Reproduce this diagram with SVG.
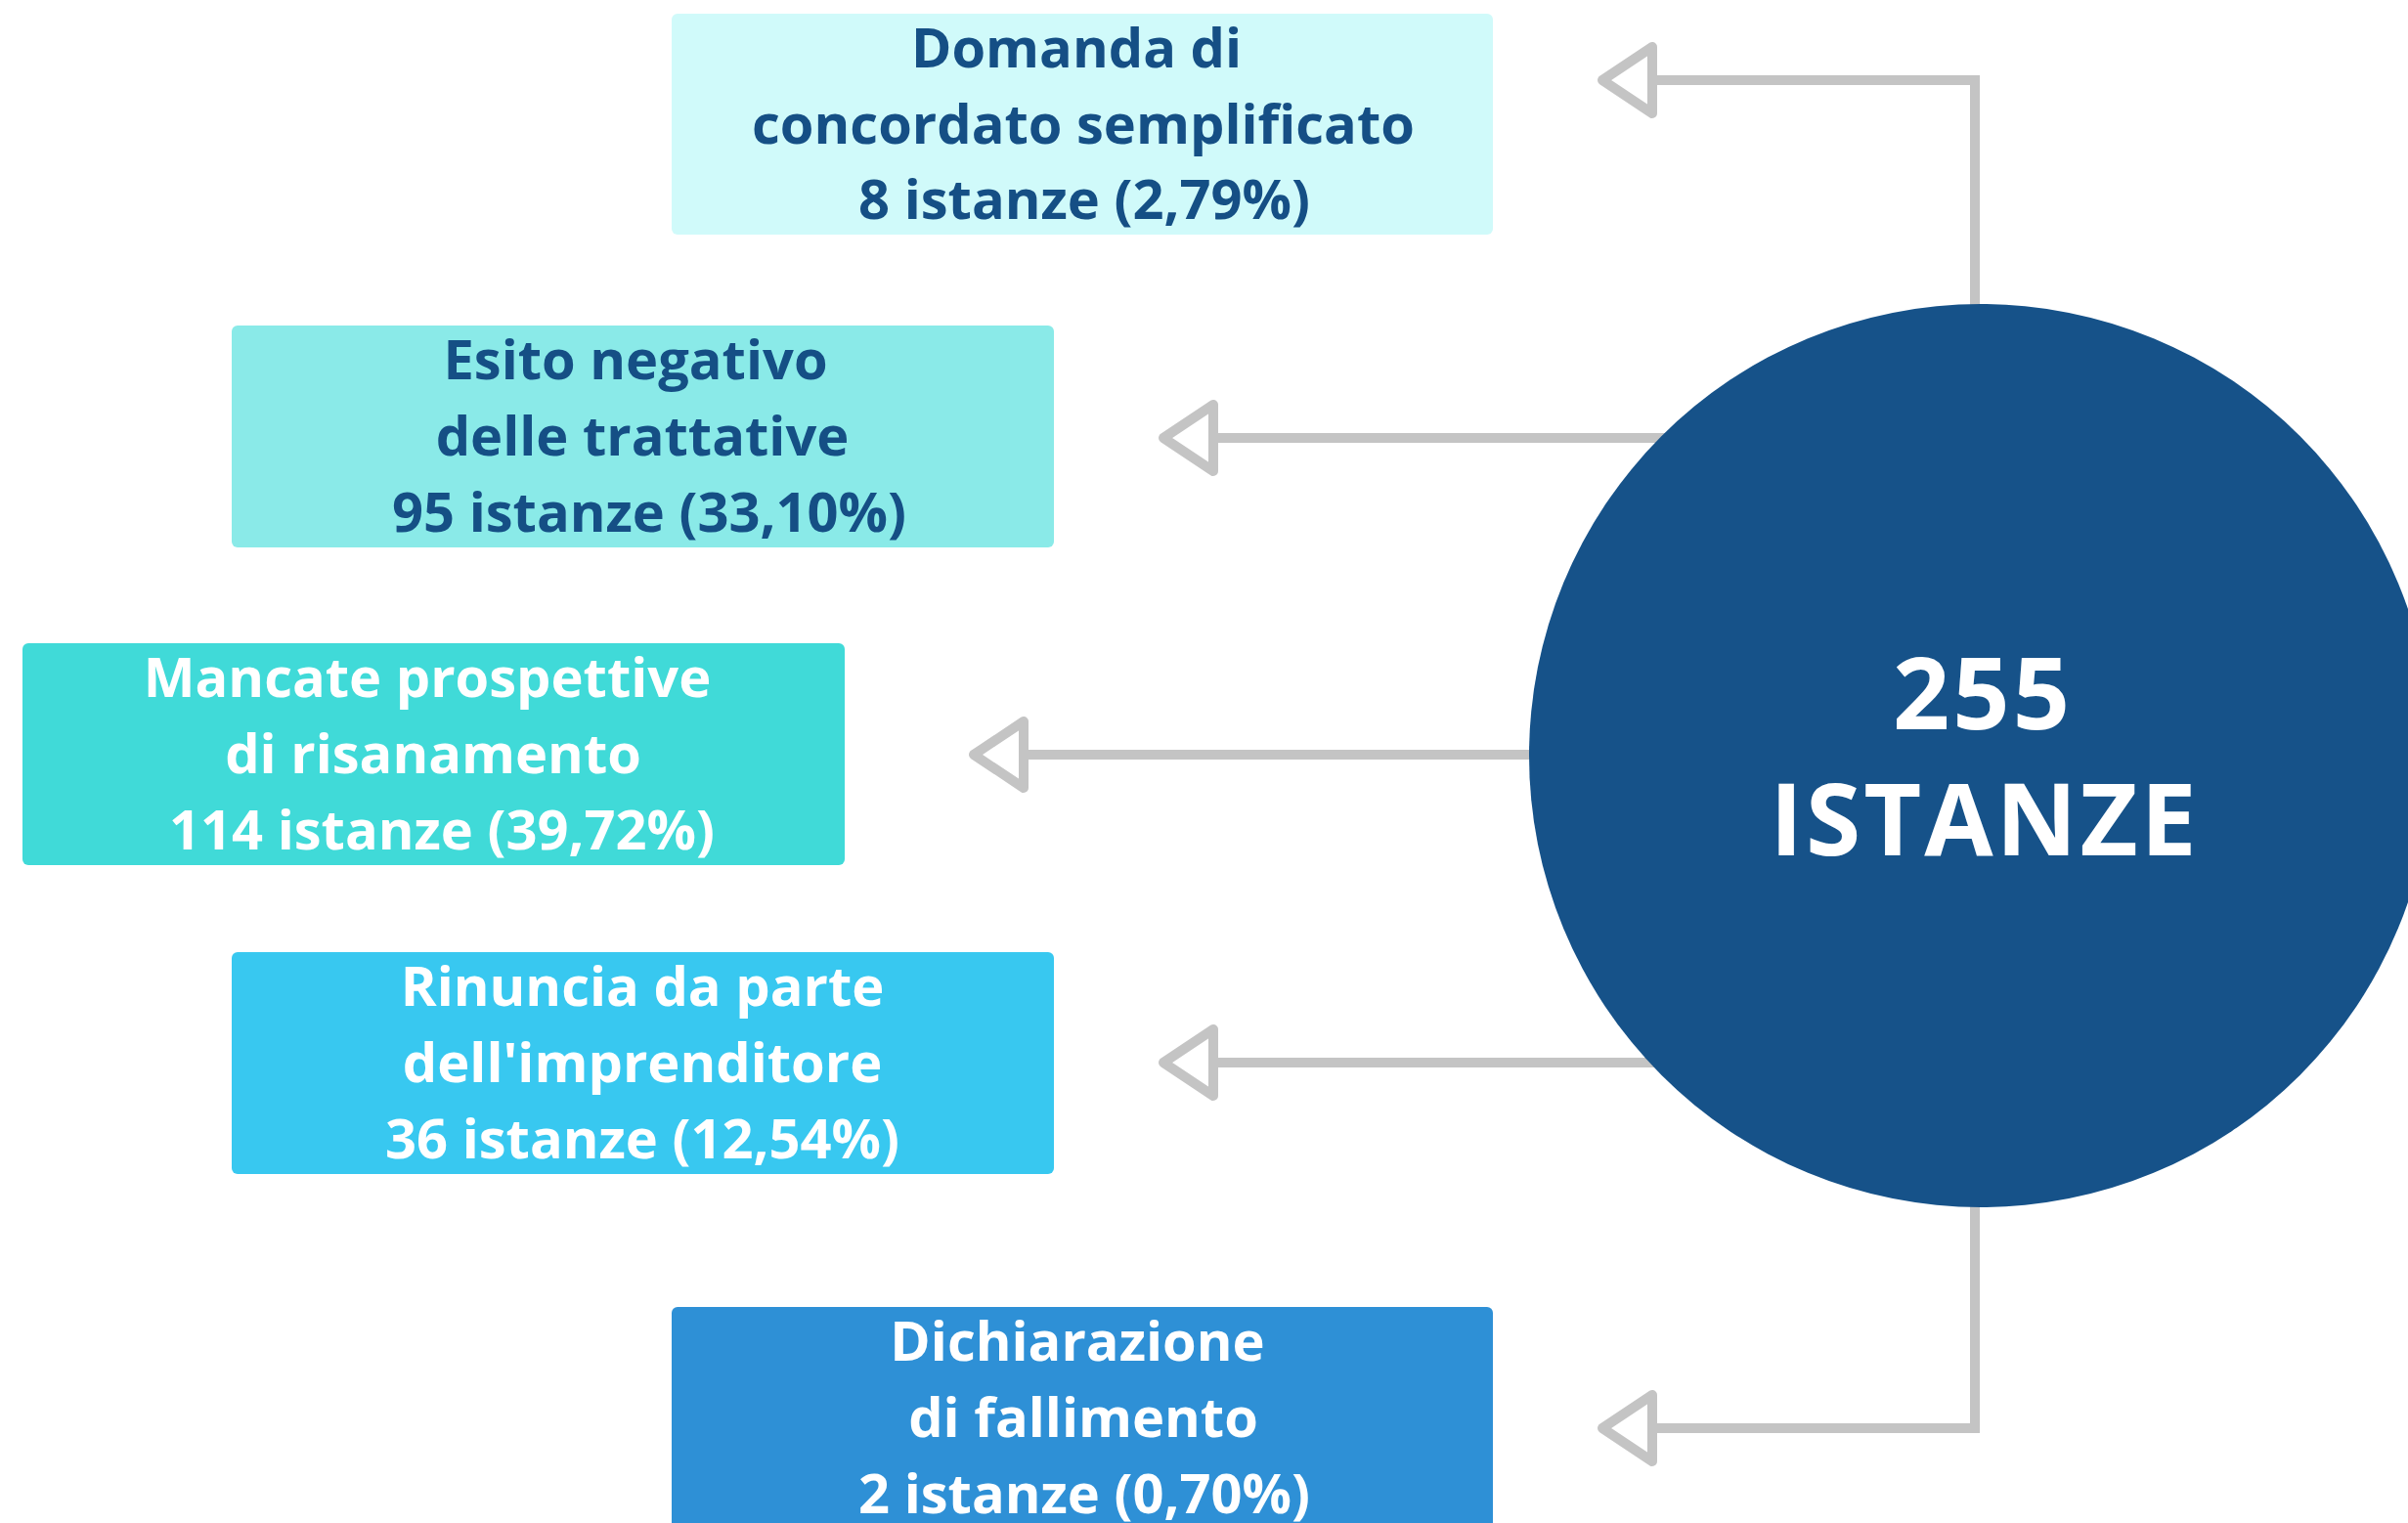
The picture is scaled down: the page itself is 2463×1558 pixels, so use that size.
<svg xmlns="http://www.w3.org/2000/svg" width="2463" height="1558" viewBox="0 0 2463 1558">
  <style>
    .lbl { font-family: "Open Sans", "Liberation Sans", sans-serif; font-weight: 700; font-size: 56px; text-anchor: middle; }
    .dark { fill: #154f85; }
    .light { fill: #ffffff; }
    .conn { fill: none; stroke: #c4c4c4; stroke-width: 10; stroke-linejoin: miter; marker-end: url(#arr); }
    .big { font-family: "Open Sans", "Liberation Sans", sans-serif; font-weight: 700; font-size: 102px; fill: #ffffff; text-anchor: middle; letter-spacing: 3px; }
  </style>
  <defs>
    <marker id="arr" markerUnits="userSpaceOnUse" markerWidth="80" markerHeight="100" viewBox="-15 -50 80 100" refX="0" refY="0" orient="auto" overflow="visible">
      <path d="M0,-34 L51,0 L0,34 Z" fill="#ffffff" stroke="#c4c4c4" stroke-width="10" stroke-linejoin="round"/>
    </marker>
  </defs>
  <rect width="2463" height="1558" fill="#ffffff"/>
  <g id="connectors">
    <path class="conn" d="M2020,330 V82 H1690"/>
    <path class="conn" d="M1720,448 H1241"/>
    <path class="conn" d="M1600,772 H1047"/>
    <path class="conn" d="M1720,1087 H1241"/>
    <path class="conn" d="M2020,1220 V1461 H1690"/>
  </g>
  <g id="node-center">
    <circle cx="2026" cy="773" r="462" fill="#165289"/>
    <text class="big" x="2028" y="746">255</text>
    <text class="big" x="2030" y="875">ISTANZE</text>
  </g>
  <g id="node-concordato">
    <rect x="687" y="14" width="840" height="226" rx="6" fill="#d0fafa"/>
    <text class="lbl dark" x="1101" y="69">Domanda di</text>
    <text class="lbl dark" x="1108" y="147">concordato semplificato</text>
    <text class="lbl dark" x="1109" y="224">8 istanze (2,79%)</text>
  </g>
  <g id="node-esito">
    <rect x="237" y="333" width="841" height="227" rx="6" fill="#8aeae8"/>
    <text class="lbl dark" x="650" y="388">Esito negativo</text>
    <text class="lbl dark" x="657" y="466">delle trattative</text>
    <text class="lbl dark" x="664" y="544">95 istanze (33,10%)</text>
  </g>
  <g id="node-mancate">
    <rect x="23" y="658" width="841" height="227" rx="6" fill="#40dad8"/>
    <text class="lbl light" x="437" y="713">Mancate prospettive</text>
    <text class="lbl light" x="443" y="791">di risanamento</text>
    <text class="lbl light" x="452" y="869">114 istanze (39,72%)</text>
  </g>
  <g id="node-rinuncia">
    <rect x="237" y="974" width="841" height="227" rx="6" fill="#38c8f0"/>
    <text class="lbl light" x="657" y="1029">Rinuncia da parte</text>
    <text class="lbl light" x="657" y="1107">dell'imprenditore</text>
    <text class="lbl light" x="657" y="1185">36 istanze (12,54%)</text>
  </g>
  <g id="node-fallimento">
    <rect x="687" y="1337" width="840" height="240" rx="6" fill="#2e90d6"/>
    <text class="lbl light" x="1102" y="1392">Dichiarazione</text>
    <text class="lbl light" x="1108" y="1470">di fallimento</text>
    <text class="lbl light" x="1109" y="1548">2 istanze (0,70%)</text>
  </g>
</svg>
